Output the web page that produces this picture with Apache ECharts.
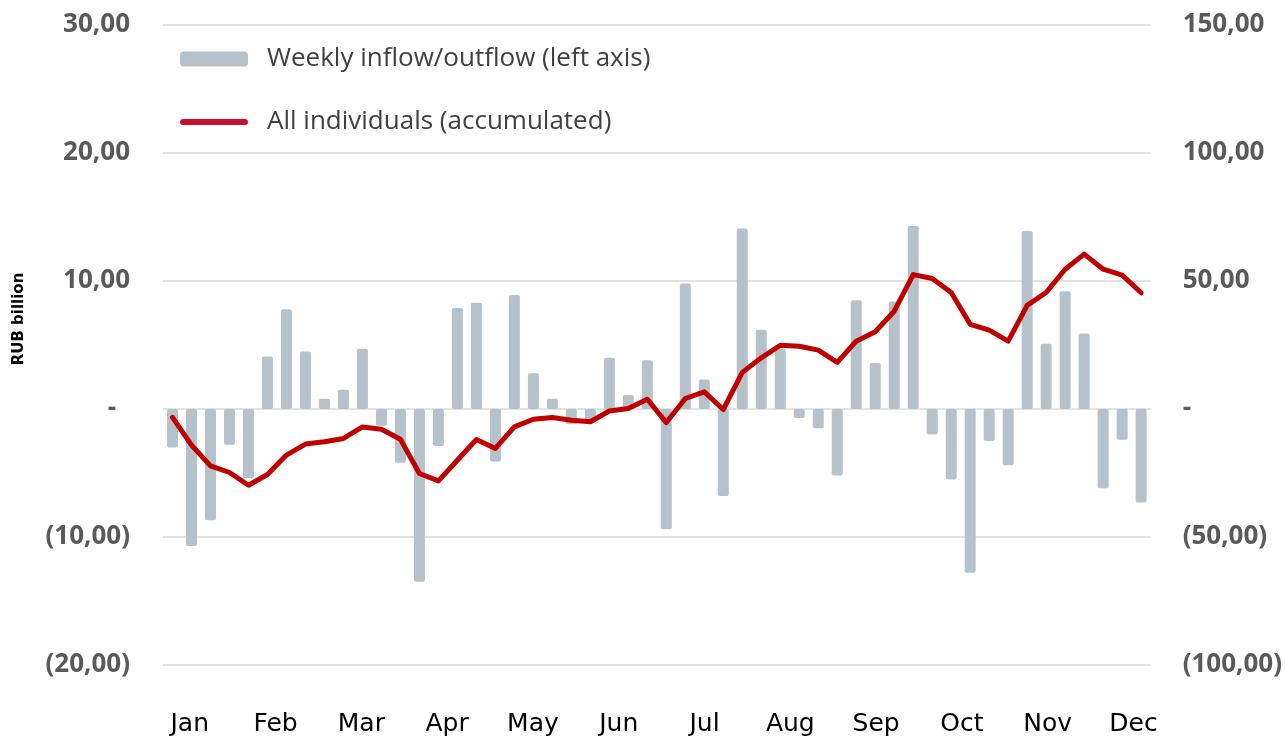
<!DOCTYPE html>
<html>
<head>
<meta charset="utf-8">
<script src="https://cdn.jsdelivr.net/npm/echarts@6/dist/echarts.min.js"></script>
<style>
  html, body { margin: 0; padding: 0; background: #fff; }
  #chart { width: 1285px; height: 737px; }
</style>
</head>
<body>
<div id="chart"></div>
<script>
// 月份标签
const months = ['Jan', 'Feb', 'Mar', 'Apr', 'May', 'Jun', 'Jul', 'Aug', 'Sep', 'Oct', 'Nov', 'Dec'];

// 每周流入/流出 (左轴, RUB bn)
const weekly = [
  -3.0, -10.7, -8.7, -2.8, -5.4, 4.1, 7.8, 4.5, 0.8, 1.5,
  4.7, -1.3, -4.2, -13.5, -2.9, 7.9, 8.3, -4.1, 8.9, 2.8,
  0.8, -1.2, -0.9, 4.0, 1.1, 3.8, -9.4, 9.8, 2.3, -6.8,
  14.1, 6.2, 4.7, -0.7, -1.5, -5.2, 8.5, 3.6, 8.4, 14.3,
  -2.0, -5.5, -12.8, -2.5, -4.4, 13.9, 5.1, 9.2, 5.9, -6.2,
  -2.4, -7.3
];

// 累计 (右轴)
const accumulated = [
  -3.3, -14.1, -22.2, -24.8, -29.8, -25.6, -18.0, -13.7, -12.8, -11.5,
  -7.0, -7.9, -11.8, -25.2, -28.1, -20.0, -11.9, -15.4, -7.0, -4.0,
  -3.3, -4.4, -5.0, -0.8, 0.2, 3.8, -5.3, 4.1, 6.7, -0.2,
  14.3, 20.0, 24.9, 24.5, 23.0, 18.2, 26.5, 30.2, 38.2, 52.5,
  51.0, 45.5, 33.1, 30.8, 26.5, 40.5, 45.5, 54.6, 60.5, 54.6,
  52.3, 45.4
];

const weeks = weekly.map((_, i) => 'W' + (i + 1));
const monthIdx = months.map((_, i) => i);

const FONT = 'Open Sans';
// 图例里的粗线 (上下两个小点撑开包围盒, 让线保持细)
const LINE_ICON = 'path://M0,0h0.01v0.01h-0.01z M3,4.5h62a3,3 0 0 1 0,6h-62a3,3 0 0 1 0,-6z M0,15h0.01v0.01h-0.01z';

function fmt(v) {
    if (v === 0) return '{d|-}';
    const s = Math.abs(v).toFixed(2).replace('.', ',');
    return v < 0 ? '(' + s + ')' : s;
}

const chart = echarts.init(document.getElementById('chart'));

const labelStyle = {
    fontFamily: FONT,
    fontSize: 26,
    fontWeight: 'bold',
    color: '#595959'
};

const option = {
    animation: false,
    grid: { left: 163, right: 134, top: 25, bottom: 71 },
    legend: {
        orient: 'vertical',
        left: 175,
        top: 39,
        itemWidth: 68,
        itemHeight: 15,
        itemGap: 33,
        textStyle: { fontFamily: FONT, fontSize: 26, color: '#404040', lineHeight: 30, padding: [0, 0, 0, 14] },
        data: [
            { name: 'Weekly inflow/outflow (left axis)', icon: 'roundRect' },
            { name: 'All individuals (accumulated)', icon: LINE_ICON, itemStyle: { color: '#c8102e' } }
        ]
    },
    graphic: [{
        type: 'text',
        x: 19, y: 319,
        rotation: Math.PI / 2,
        style: {
            text: 'RUB billion',
            font: 'bold 15px "DejaVu Sans"',
            fill: '#000',
            align: 'center',
            verticalAlign: 'middle'
        }
    }],
    xAxis: [
        {
            type: 'category',
            data: weeks,
            position: 'top',
            boundaryGap: true,
            show: false
        },
        {
            type: 'value',
            position: 'bottom',
            min: -0.312,
            max: 11.2,
            axisLine: { show: false },
            axisTick: { show: false },
            splitLine: { show: false },
            axisLabel: {
                customValues: monthIdx,
                formatter: v => months[Math.round(v)],
                margin: 47,
                fontFamily: 'DejaVu Sans',
                fontSize: 25,
                color: '#000'
            }
        }
    ],
    yAxis: [
        {
            type: 'value',
            min: -20, max: 30, interval: 10,
            axisLine: { show: false },
            axisTick: { show: false },
            splitLine: { lineStyle: { color: '#d9d9d9', width: 1.5 } },
            axisLabel: Object.assign({
                formatter: fmt,
                margin: 33,
                rich: { d: Object.assign({ padding: [0, 14, 0, 0] }, labelStyle) }
            }, labelStyle)
        },
        {
            type: 'value',
            min: -100, max: 150, interval: 50,
            axisLine: { show: false },
            axisTick: { show: false },
            splitLine: { show: false },
            axisLabel: Object.assign({
                formatter: fmt,
                margin: 32,
                rich: { d: Object.assign({}, labelStyle) }
            }, labelStyle)
        }
    ],
    series: [
        {
            name: 'Weekly inflow/outflow (left axis)',
            type: 'bar',
            xAxisIndex: 0,
            yAxisIndex: 0,
            barWidth: 11,
            itemStyle: { color: '#b5c2ca', borderRadius: 2 },
            data: weekly
        },
        {
            name: 'All individuals (accumulated)',
            type: 'line',
            xAxisIndex: 0,
            yAxisIndex: 1,
            symbol: 'none',
            z: 5,
            lineStyle: { color: '#c00000', width: 5, join: 'round', cap: 'round' },
            itemStyle: { color: '#c00000' },
            data: accumulated
        }
    ]
};

option && chart.setOption(option);
</script>
</body>
</html>
